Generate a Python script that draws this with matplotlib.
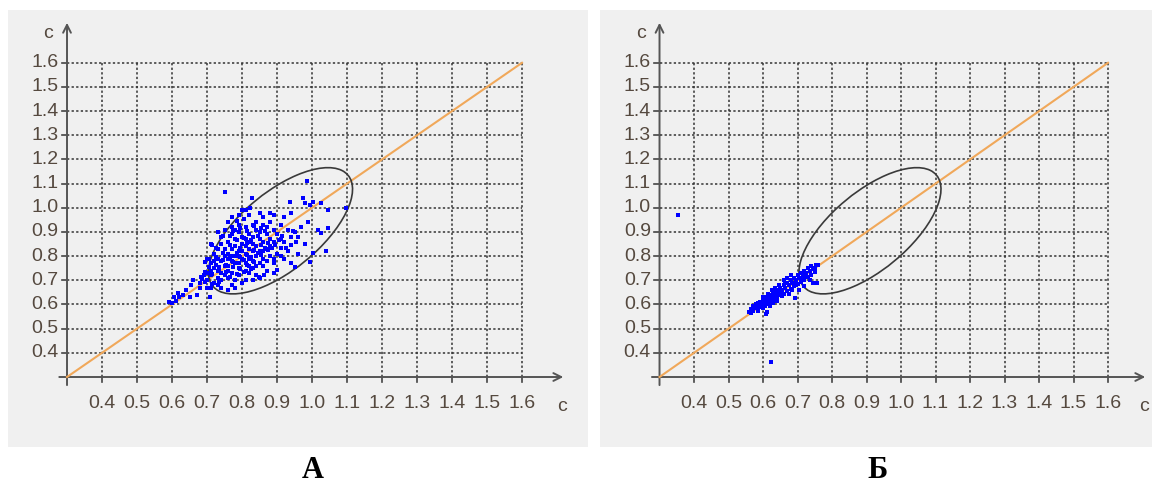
import matplotlib.pyplot as plt
from matplotlib.patches import Ellipse

# coordinates of the points, panel А
a_x = [0.592, 0.606, 0.618, 0.61, 0.62, 0.641, 0.655, 0.67, 0.65, 0.708, 0.679, 0.693, 0.684, 0.693,
       0.705, 0.713, 0.66, 0.68, 0.69, 0.70, 0.63, 0.60,
       0.70, 0.71, 0.72, 0.73, 0.74, 0.71, 0.73, 0.74, 0.72, 0.70, 0.73, 0.75, 0.71, 0.74,
       0.71, 0.73, 0.72, 0.74, 0.75, 0.73, 0.74, 0.72, 0.70, 0.75, 0.71, 0.74, 0.75, 0.73,
       0.76, 0.77, 0.78, 0.76, 0.79, 0.77, 0.78, 0.80, 0.76, 0.79,
       0.76, 0.77, 0.78, 0.79, 0.80, 0.76, 0.77, 0.78, 0.79, 0.80, 0.76, 0.78, 0.77, 0.79, 0.75, 0.80,
       0.76, 0.77, 0.78, 0.79, 0.80, 0.77, 0.79, 0.76, 0.78, 0.77, 0.80, 0.79, 0.75,
       0.81, 0.83, 0.82, 0.84, 0.85, 0.81, 0.83,
       0.81, 0.82, 0.83, 0.84, 0.85, 0.81, 0.82, 0.83, 0.84, 0.85, 0.81, 0.84, 0.83, 0.82,
       0.81, 0.82, 0.83, 0.84, 0.85, 0.81, 0.83, 0.85, 0.82, 0.84,
       0.82, 0.823, 0.829, 0.85, 0.81,
       0.849, 0.864, 0.87, 0.89,
       0.86, 0.87, 0.88, 0.86, 0.89, 0.88, 0.87, 0.90, 0.89, 0.86,
       0.86, 0.87, 0.88, 0.89, 0.86, 0.88, 0.90, 0.87, 0.89, 0.86, 0.88, 0.89,
       0.90, 0.91, 0.939, 0.939, 0.95, 0.92, 0.93, 0.91, 0.94, 0.92, 0.93, 0.91, 0.95, 0.92, 0.936,
       0.94, 0.91,
       0.953, 0.973, 0.979, 0.994, 1.002, 1.025, 1.046, 0.985, 1.017, 1.025, 1.046, 1.002, 1.04,
       0.994, 0.96, 0.97, 0.98, 0.96, 0.99, 1.098, 0.751,
       # dense core
       0.715, 0.725, 0.735, 0.745, 0.755, 0.765, 0.775, 0.785, 0.795, 0.805, 0.815, 0.825,
       0.835, 0.845, 0.855, 0.865, 0.875, 0.885, 0.725, 0.745, 0.765, 0.785, 0.805, 0.825,
       0.845, 0.865, 0.735, 0.755, 0.775, 0.795, 0.815, 0.835, 0.855, 0.875, 0.705, 0.765,
       0.785, 0.805, 0.825, 0.745, 0.775, 0.795, 0.815, 0.835, 0.855, 0.895, 0.905, 0.915,
       0.925, 0.945, 0.765, 0.785, 0.805, 0.725, 0.695, 0.685, 0.715, 0.735, 0.795, 0.815]
a_y = [0.61, 0.63, 0.647, 0.615, 0.63, 0.66, 0.68, 0.639, 0.63, 0.63, 0.668, 0.693, 0.713, 0.775,
       0.79, 0.845, 0.70, 0.69, 0.72, 0.67, 0.64, 0.605,
       0.70, 0.72, 0.69, 0.71, 0.73, 0.74, 0.68, 0.70, 0.75, 0.73, 0.74, 0.72, 0.67, 0.67,
       0.77, 0.79, 0.81, 0.78, 0.80, 0.83, 0.85, 0.78, 0.79, 0.76, 0.85, 0.88, 0.91, 0.90,
       0.66, 0.68, 0.70, 0.71, 0.72, 0.73, 0.67, 0.69, 0.74, 0.75,
       0.76, 0.78, 0.80, 0.77, 0.79, 0.81, 0.83, 0.84, 0.82, 0.85, 0.79, 0.77, 0.80, 0.80, 0.83, 0.82,
       0.86, 0.89, 0.87, 0.90, 0.88, 0.92, 0.93, 0.94, 0.91, 0.96, 0.99, 0.97, 1.065,
       0.70, 0.70, 0.73, 0.72, 0.71, 0.74, 0.75,
       0.77, 0.79, 0.78, 0.80, 0.77, 0.81, 0.83, 0.82, 0.84, 0.82, 0.84, 0.76, 0.85, 0.76,
       0.87, 0.89, 0.88, 0.91, 0.87, 0.92, 0.93, 0.90, 0.86, 0.94,
       0.97, 1.00, 1.04, 0.98, 0.99,
       0.713, 0.721, 0.74, 0.73,
       0.76, 0.78, 0.80, 0.82, 0.79, 0.84, 0.83, 0.81, 0.77, 0.79,
       0.86, 0.89, 0.87, 0.91, 0.93, 0.94, 0.89, 0.92, 0.86, 0.96, 0.98, 0.97,
       0.742, 0.833, 0.845, 0.771, 0.755, 0.79, 0.82, 0.80, 0.88, 0.86, 0.91, 0.93, 0.90, 0.96, 1.023,
       0.98, 0.87,
       0.858, 1.04, 1.019, 1.011, 1.023, 1.019, 0.99, 1.11, 0.907, 0.895, 0.916, 0.812, 0.82,
       0.775, 0.88, 0.92, 0.85, 0.81, 0.94, 0.998, 1.064,
       # dense core
       0.725, 0.765, 0.745, 0.785, 0.765, 0.795, 0.775, 0.815, 0.795, 0.785, 0.805, 0.795,
       0.825, 0.815, 0.845, 0.835, 0.855, 0.835, 0.795, 0.815, 0.845, 0.865, 0.875, 0.865,
       0.885, 0.905, 0.755, 0.735, 0.755, 0.745, 0.765, 0.775, 0.805, 0.825, 0.755, 0.715,
       0.725, 0.735, 0.745, 0.885, 0.905, 0.915, 0.905, 0.925, 0.915, 0.845, 0.865, 0.885,
       0.835, 0.905, 0.885, 0.945, 0.955, 0.835, 0.735, 0.705, 0.685, 0.695, 0.835, 0.855]

# coordinates of the points, panel Б
b_x = [0.56, 0.565, 0.57, 0.575, 0.58, 0.58, 0.585, 0.59, 0.59, 0.595, 0.60, 0.60, 0.57, 0.585,
       0.565, 0.60,
       0.605, 0.61, 0.61, 0.615, 0.62, 0.62, 0.625, 0.63, 0.63, 0.635, 0.64, 0.64, 0.645, 0.65,
       0.65, 0.605, 0.612, 0.62, 0.63, 0.64, 0.615, 0.625, 0.635, 0.645, 0.61, 0.62, 0.63, 0.64,
       0.65, 0.60,
       0.655, 0.66, 0.66, 0.665, 0.67, 0.67, 0.675, 0.68, 0.68, 0.685, 0.69, 0.69, 0.695, 0.70,
       0.70, 0.693, 0.66, 0.67, 0.68, 0.655, 0.675, 0.685, 0.665, 0.69, 0.695,
       0.705, 0.71, 0.71, 0.715, 0.72, 0.72, 0.725, 0.73, 0.73, 0.735, 0.74, 0.74, 0.745, 0.75,
       0.755, 0.756, 0.759, 0.75, 0.745, 0.735, 0.72, 0.705, 0.70, 0.715, 0.725,
       0.354, 0.623, 0.609]
b_y = [0.57, 0.58, 0.575, 0.59, 0.585, 0.60, 0.575, 0.59, 0.61, 0.60, 0.585, 0.615, 0.595, 0.605,
       0.565, 0.60,
       0.62, 0.60, 0.63, 0.615, 0.64, 0.61, 0.625, 0.65, 0.62, 0.64, 0.66, 0.63, 0.65, 0.67,
       0.64, 0.595, 0.569, 0.595, 0.605, 0.615, 0.645, 0.66, 0.67, 0.68, 0.61, 0.625, 0.635, 0.645,
       0.655, 0.63,
       0.66, 0.68, 0.645, 0.67, 0.69, 0.655, 0.68, 0.70, 0.665, 0.69, 0.71, 0.675, 0.70, 0.72,
       0.685, 0.627, 0.70, 0.71, 0.72, 0.635, 0.645, 0.66, 0.69, 0.69, 0.68,
       0.71, 0.73, 0.695, 0.72, 0.74, 0.70, 0.73, 0.75, 0.715, 0.74, 0.76, 0.72, 0.688, 0.75,
       0.765, 0.688, 0.763, 0.735, 0.745, 0.70, 0.675, 0.66, 0.72, 0.705, 0.715,
       0.972, 0.361, 0.56]

ticks = [0.4, 0.5, 0.6, 0.7, 0.8, 0.9, 1.0, 1.1, 1.2, 1.3, 1.4, 1.5, 1.6]
tick_labels = ['0.4', '0.5', '0.6', '0.7', '0.8', '0.9', '1.0', '1.1', '1.2', '1.3', '1.4', '1.5', '1.6']
panel_names = ['А', 'Б']

# ellipse: centre, axes, rotation (data units)
ell_center = (0.91, 0.905)
ell_width = 0.61
ell_height = 0.265
ell_angle = 55

W, H = 1156, 488
fig = plt.figure(figsize=(W / 100, H / 100), dpi=100)
fig.patch.set_facecolor('white')

label_font = ['Liberation Sans Narrow', 'Liberation Sans', 'DejaVu Sans']
label_color = '#55493f'


def draw_panel(left, right, top, bottom, xlim, ylim, xs, ys, name, name_x, x_end):
    ax = fig.add_axes([left / W, 1 - bottom / H, (right - left) / W, (bottom - top) / H])
    ax.set_facecolor('#f0f0f0')
    ax.set_xlim(*xlim)
    ax.set_ylim(*ylim)
    for s in ax.spines.values():
        s.set_visible(False)
    ax.set_xticks([])
    ax.set_yticks([])

    # dotted grid inside the box 0.3..1.6
    for t in ticks:
        ax.plot([0.3, 1.6], [t, t], color='#333333', lw=1.1, ls=(0, (1.5, 1.5)), zorder=1)
        ax.plot([t, t], [0.3, 1.6], color='#333333', lw=1.1, ls=(0, (1.5, 1.5)), zorder=1)
        # short solid ticks outside the axes
        ax.plot([0.285, 0.3], [t, t], color='#444444', lw=1.2, zorder=2)
        ax.plot([t, t], [0.28, 0.3], color='#444444', lw=1.2, zorder=2)

    # axes with arrows
    ax.annotate('', xy=(x_end, 0.3), xytext=(0.27, 0.3),
                arrowprops=dict(arrowstyle='->', color='#555555', lw=1.4, mutation_scale=14), zorder=3)
    ax.annotate('', xy=(0.3, 1.777), xytext=(0.3, 0.255),
                arrowprops=dict(arrowstyle='->', color='#555555', lw=1.4, mutation_scale=14), zorder=3)

    # diagonal y = x
    ax.plot([0.3, 1.6], [0.3, 1.6], color='#f0a85a', lw=1.5, zorder=3)

    ell = Ellipse(ell_center, ell_width, ell_height, angle=ell_angle,
                  fill=False, edgecolor='#3a3a3a', lw=1.2, zorder=4)
    ax.add_patch(ell)

    ax.scatter(xs, ys, s=12, color='#0000ff', marker='s', linewidths=0, zorder=5)

    for t, lab in zip(ticks, tick_labels):
        ax.text(t, 0.19, lab, ha='center', va='center', fontsize=14,
                family=label_font, color=label_color)
        ax.text(0.275, t, lab, ha='right', va='center', fontsize=14,
                family=label_font, color=label_color)
    ax.text(0.245, 1.723, 'c', ha='center', va='center', fontsize=14,
            family=label_font, color=label_color)
    ax.text(x_end - 0.012, 0.18, 'c', ha='center', va='center', fontsize=14,
            family=label_font, color=label_color)

    fig.text(name_x / W, 1 - 470 / H, name, ha='center', va='center', fontsize=22,
             fontweight='bold', family=['Liberation Serif', 'DejaVu Serif'])


draw_panel(8, 588, 10, 447, (0.1314, 1.7886), (0.0104, 1.8184), a_x, a_y, panel_names[0], 313, 1.726)
draw_panel(600, 1152, 10, 447, (0.1275, 1.7275), (0.0104, 1.8184), b_x, b_y, panel_names[1], 878, 1.716)

fig.savefig('out.png', dpi=100)
